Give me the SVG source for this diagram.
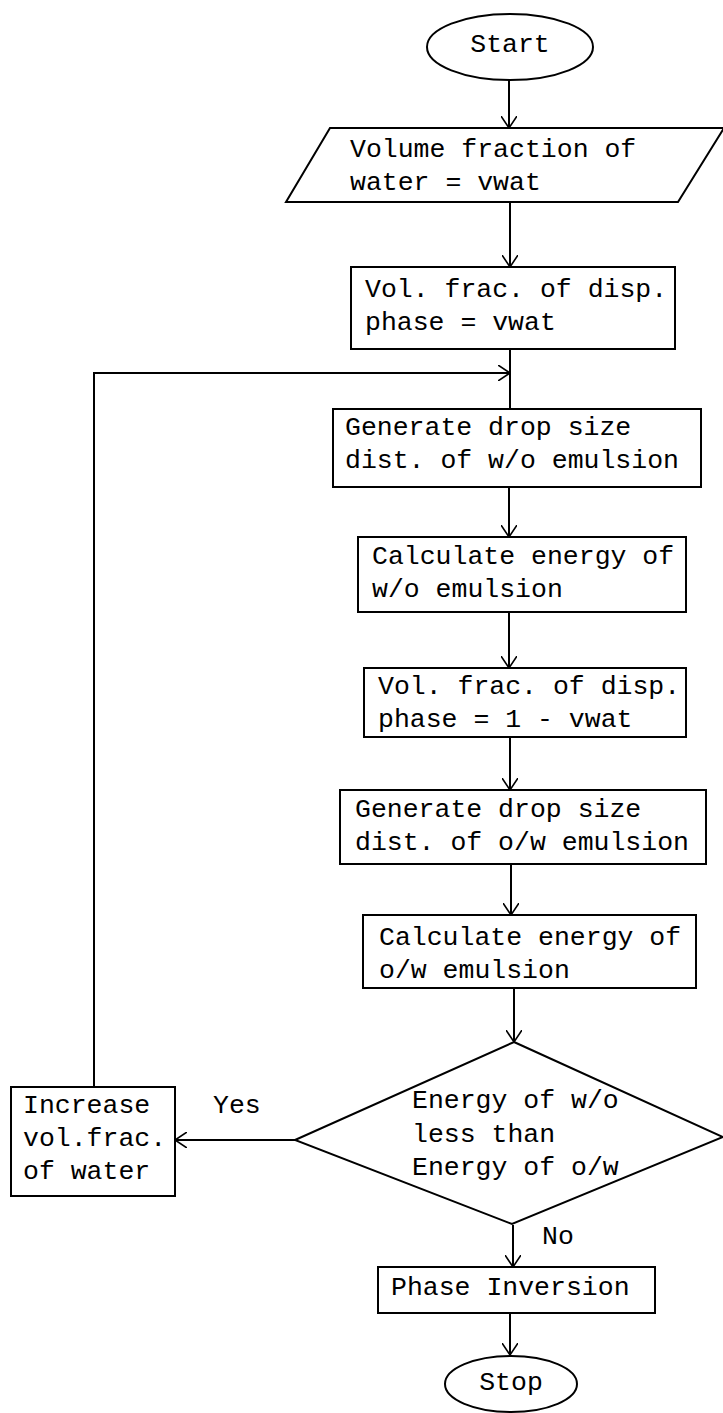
<svg xmlns="http://www.w3.org/2000/svg" width="723" height="1413" viewBox="0 0 723 1413">
<style>
.s{fill:#fff;stroke:#000;stroke-width:2}
.t{font-family:"Liberation Mono","DejaVu Sans Mono",monospace;font-size:26.5px;fill:#000}
.c{fill:none;stroke:#000;stroke-width:2}
</style>
<defs>
<marker id="a" viewBox="0 0 12 16" refX="12" refY="8" markerWidth="12" markerHeight="16" markerUnits="userSpaceOnUse" orient="auto">
<path d="M0,0 L12,8 L0,16" fill="none" stroke="#000" stroke-width="1.6"/>
</marker>
</defs>
<rect width="723" height="1413" fill="#fff"/>
<g id="connectors">
<line class="c" x1="509" y1="80" x2="509" y2="128" marker-end="url(#a)"/>
<line class="c" x1="510" y1="202" x2="510" y2="267" marker-end="url(#a)"/>
<line class="c" x1="510" y1="349" x2="510" y2="409"/>
<polyline class="c" points="94,1087 94,373 510,373" marker-end="url(#a)"/>
<line class="c" x1="509" y1="487" x2="509" y2="537" marker-end="url(#a)"/>
<line class="c" x1="509" y1="612" x2="509" y2="668" marker-end="url(#a)"/>
<line class="c" x1="510" y1="737" x2="510" y2="790" marker-end="url(#a)"/>
<line class="c" x1="511" y1="864" x2="511" y2="915" marker-end="url(#a)"/>
<line class="c" x1="514" y1="988" x2="514" y2="1042" marker-end="url(#a)"/>
<line class="c" x1="295" y1="1140" x2="175" y2="1140" marker-end="url(#a)"/>
<line class="c" x1="513" y1="1225" x2="513" y2="1267" marker-end="url(#a)"/>
<line class="c" x1="510" y1="1313" x2="510" y2="1355" marker-end="url(#a)"/>
</g>
<g id="start">
<ellipse class="s" cx="510" cy="47" rx="83" ry="33"/>
<text class="t" x="510" y="52" text-anchor="middle">Start</text>
</g>
<g id="input">
<polygon class="s" points="330,128 724,128 678,202 286,202"/>
<text class="t" x="350" y="157">Volume fraction of</text>
<text class="t" x="350" y="190">water = vwat</text>
</g>
<g id="box1">
<rect class="s" x="351" y="267" width="324" height="82"/>
<text class="t" x="365" y="297">Vol. frac. of disp.</text>
<text class="t" x="365" y="330">phase = vwat</text>
</g>
<g id="box2">
<rect class="s" x="333" y="409" width="368" height="78"/>
<text class="t" x="345" y="435">Generate drop size</text>
<text class="t" x="345" y="468">dist. of w/o emulsion</text>
</g>
<g id="box3">
<rect class="s" x="358" y="537" width="328" height="75"/>
<text class="t" x="372" y="564">Calculate energy of</text>
<text class="t" x="372" y="597">w/o emulsion</text>
</g>
<g id="box4">
<rect class="s" x="364" y="668" width="322" height="69"/>
<text class="t" x="378" y="694">Vol. frac. of disp.</text>
<text class="t" x="378" y="727">phase = 1 - vwat</text>
</g>
<g id="box5">
<rect class="s" x="340" y="790" width="366" height="74"/>
<text class="t" x="355" y="817">Generate drop size</text>
<text class="t" x="355" y="850">dist. of o/w emulsion</text>
</g>
<g id="box6">
<rect class="s" x="363" y="915" width="333" height="73"/>
<text class="t" x="379" y="945">Calculate energy of</text>
<text class="t" x="379" y="978">o/w emulsion</text>
</g>
<g id="decision">
<polygon class="s" points="514,1042 723,1137 512,1224 295,1140"/>
<text class="t" x="412" y="1108">Energy of w/o</text>
<text class="t" x="412" y="1142">less than</text>
<text class="t" x="412" y="1175">Energy of o/w</text>
</g>
<g id="increase">
<rect class="s" x="11" y="1087" width="164" height="109"/>
<text class="t" x="23" y="1113">Increase</text>
<text class="t" x="23" y="1146">vol.frac.</text>
<text class="t" x="23" y="1179">of water</text>
</g>
<g id="labels">
<text class="t" x="213" y="1113">Yes</text>
<text class="t" x="542" y="1244">No</text>
</g>
<g id="phase">
<rect class="s" x="378" y="1267" width="277" height="46"/>
<text class="t" x="391" y="1295">Phase Inversion</text>
</g>
<g id="stop">
<ellipse class="s" cx="511" cy="1384" rx="66" ry="28"/>
<text class="t" x="511" y="1390" text-anchor="middle">Stop</text>
</g>
</svg>
